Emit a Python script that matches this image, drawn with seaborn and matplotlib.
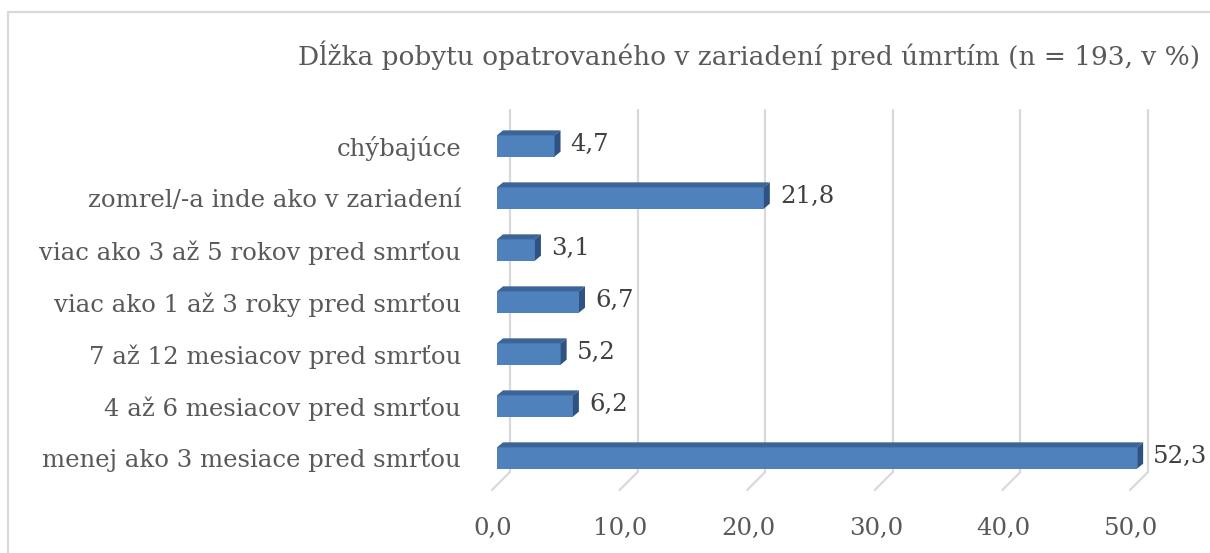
import matplotlib
matplotlib.use("Agg")
import matplotlib.pyplot as plt
import matplotlib.transforms as mtransforms
from matplotlib.patches import Polygon, Rectangle
import seaborn as sns
import pandas as pd

categories = [
    "chýbajúce",
    "zomrel/-a inde ako v zariadení",
    "viac ako 3 až 5 rokov pred smrťou",
    "viac ako 1 až 3 roky pred smrťou",
    "7 až 12 mesiacov pred smrťou",
    "4 až 6 mesiacov pred smrťou",
    "menej ako 3 mesiace pred smrťou",
]
values = [4.7, 21.8, 3.1, 6.7, 5.2, 6.2, 52.3]
ticks = [0, 10, 20, 30, 40, 50]
title = "Dĺžka pobytu opatrovaného v zariadení pred úmrtím (n = 193, v %)"

df = pd.DataFrame({"kategoria": categories, "podiel": values})

sns.set_style("white")
plt.rcParams["font.family"] = ["DejaVu Serif", "DejaVu Sans"]
txt = "#595959"

W, H = 1210, 553
fig = plt.figure(figsize=(W / 100, H / 100), dpi=100)

def box(left, top, right, bottom):
    return [left / W, 1 - bottom / H, (right - left) / W, (bottom - top) / H]

# axis used for gridlines and tick labels (floor front)
ax2 = fig.add_axes(box(493, 120, 1131, 484))
# axis used for the bars (front plane)
ax = fig.add_axes(box(497, 120, 1109, 484), sharey=ax2)

sns.barplot(data=df, y="kategoria", x="podiel", orient="h", color="#4f81bd",
            saturation=1, width=0.41, ax=ax, zorder=3, linewidth=0)
ax.set_xlim(0, 50)
ax.set_ylim(6.5, -0.5)
ax.patch.set_visible(False)
for s in ax.spines.values():
    s.set_visible(False)
ax.set_xticks([])
ax.set_xlabel("")
ax.set_ylabel("")
ax.tick_params(axis="y", length=0, pad=26, labelsize=17.6, labelcolor=txt)

ax2.set_xlim(0, 50)
ax2.set_zorder(0)
ax.set_zorder(1)
for s in ax2.spines.values():
    s.set_visible(False)
ax2.set_xticks(ticks)
ax2.set_xticklabels([f"{t:.1f}".replace(".", ",") for t in ticks])
ax2.tick_params(axis="x", length=0, pad=24, labelsize=17.6, labelcolor=txt)
ax2.tick_params(axis="y", left=False, labelleft=False)

# back wall gridlines + floor diagonals
grid_c = "#d9d9d9"
ft = mtransforms.blended_transform_factory(ax2.transData, fig.transFigure)
for t in ticks:
    back = mtransforms.offset_copy(ft, fig=fig, x=17, y=0, units="dots")
    front = mtransforms.offset_copy(ft, fig=fig, x=-1, y=0, units="dots")
    ax2.plot([t, t], [1 - 110 / H, 1 - 472 / H], transform=back,
             color=grid_c, lw=1.6, clip_on=False)
    p0 = back.transform((t, 1 - 472 / H))
    p1 = front.transform((t, 1 - 490 / H))
    ax2.plot([p0[0], p1[0]], [p0[1], p1[1]], transform=mtransforms.IdentityTransform(),
             color=grid_c, lw=1.6, clip_on=False)

# 3D faces on bars + value labels
fig.canvas.draw()
dx, dy = 6, 5
for bar, v in zip(ax.patches, values):
    bar.set_clip_on(False)
    (x0, y0), (x1, y1) = ax.transData.transform(
        [(bar.get_x(), bar.get_y() + bar.get_height()),
         (bar.get_x() + bar.get_width(), bar.get_y())])
    # y0 = bottom (display), y1 = top
    top = [(x0, y1), (x1, y1), (x1 + dx, y1 + dy), (x0 + dx, y1 + dy)]
    side = [(x1, y1), (x1 + dx, y1 + dy), (x1 + dx, y0 + dy), (x1, y0)]
    ax.add_patch(Polygon(top, closed=True, transform=mtransforms.IdentityTransform(),
                         facecolor="#3c6497", edgecolor="none", zorder=4, clip_on=False))
    ax.add_patch(Polygon(side, closed=True, transform=mtransforms.IdentityTransform(),
                         facecolor="#2e5282", edgecolor="none", zorder=4, clip_on=False))
    lab = mtransforms.offset_copy(ax.transData, fig=fig, x=16, y=2, units="dots")
    ax.text(bar.get_x() + bar.get_width(), bar.get_y() + bar.get_height() / 2,
            f"{v:.1f}".replace(".", ","), transform=lab, ha="left", va="center",
            fontsize=17.6, color="#404040", clip_on=False)

# chart border (cropped on right/bottom)
fig.add_artist(Rectangle((8 / W, -0.1), 1.2, 1 - 12 / H + 0.1, transform=fig.transFigure,
                         fill=False, edgecolor="#d9d9d9", lw=1.6))

fig.text(298 / W, 1 - 55 / H, title, ha="left", va="center", fontsize=19, color=txt)

fig.savefig("out.png", dpi=100)
